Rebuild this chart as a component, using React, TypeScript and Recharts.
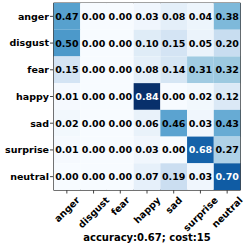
import React from 'react';
import { ScatterChart, Scatter, XAxis, YAxis, ReferenceArea, Label } from 'recharts';

const EMOTIONS = ['anger', 'disgust', 'fear', 'happy', 'sad', 'surprise', 'neutral'];

const ANGER = [0.47, 0.0, 0.0, 0.03, 0.08, 0.04, 0.38];
const DISGUST = [0.5, 0.0, 0.0, 0.1, 0.15, 0.05, 0.2];
const FEAR = [0.15, 0.0, 0.0, 0.08, 0.14, 0.31, 0.32];
const HAPPY = [0.01, 0.0, 0.0, 0.84, 0.0, 0.02, 0.12];
const SAD = [0.02, 0.0, 0.0, 0.06, 0.46, 0.03, 0.43];
const SURPRISE = [0.01, 0.0, 0.0, 0.03, 0.0, 0.68, 0.27];
const NEUTRAL = [0.0, 0.0, 0.0, 0.07, 0.19, 0.03, 0.7];

const ROWS = [ANGER, DISGUST, FEAR, HAPPY, SAD, SURPRISE, NEUTRAL];
const TICKS = [0, 1, 2, 3, 4, 5, 6];
const TITLE = 'accuracy:0.67; cost:15';

const FONT = '"DejaVu Sans", sans-serif';
const W = 249;
const H = 250;
const PLOT_W = 187;
const CELL = PLOT_W / 7;

// matplotlib "Blues"
const BLUES = ['#f7fbff', '#deebf7', '#c6dbef', '#9ecae1', '#6baed6', '#4292c6', '#2171b5', '#08519c', '#08306b'];

function hex(c: string) {
  return [1, 3, 5].map((i) => parseInt(c.slice(i, i + 2), 16));
}

function blues(t: number) {
  const v = Math.max(0, Math.min(1, t)) * (BLUES.length - 1);
  const i = Math.min(Math.floor(v), BLUES.length - 2);
  const f = v - i;
  const a = hex(BLUES[i]);
  const b = hex(BLUES[i + 1]);
  const m = a.map((x, k) => Math.round(x + (b[k] - x) * f));
  return `rgb(${m[0]},${m[1]},${m[2]})`;
}

const MAX = Math.max(...ROWS.flat());

const cells = ROWS.flatMap((row, r) => row.map((v, c) => ({ x: c, y: r, v })));

function HeatCell(props: any) {
  const { cx, cy, payload } = props;
  if (cx == null || cy == null) return null;
  const v = payload.v as number;
  return (
    <g>
      <rect x={cx - CELL / 2} y={cy - CELL / 2} width={CELL} height={CELL} fill={blues(v / MAX)} />
      <text
        x={cx}
        y={cy}
        textAnchor="middle"
        dominantBaseline="central"
        fontFamily={FONT}
        fontWeight="bold"
        fontSize={9.5}
        fill={v > 0.6 ? '#fff' : '#000'}
      >
        {v.toFixed(2)}
      </text>
    </g>
  );
}

let ctx: CanvasRenderingContext2D | null = null;
function textWidth(s: string) {
  if (!ctx) ctx = document.createElement('canvas').getContext('2d');
  if (!ctx) return s.length * 6;
  ctx.font = `bold 9.5px ${FONT}`;
  return ctx.measureText(s).width;
}

function XTick(props: any) {
  const { x, y, payload } = props;
  const label = EMOTIONS[payload.value];
  const half = (textWidth(label) + 8) * 0.3536;
  const cy = y + 1 + half;
  return (
    <text
      transform={`translate(${x},${cy}) rotate(-45)`}
      textAnchor="middle"
      dominantBaseline="central"
      fontFamily={FONT}
      fontWeight="bold"
      fontSize={9.5}
      fill="#000"
    >
      {label}
    </text>
  );
}

export default function App() {
  return (
    <div style={{ position: 'absolute', left: 0, top: 0, width: W, height: H, background: '#fff' }}>
      <ScatterChart width={W} height={H} margin={{ top: 3, right: 8.5, bottom: 0, left: 0 }}>
        <XAxis
          type="number"
          dataKey="x"
          domain={[-0.5, 6.5]}
          ticks={TICKS}
          interval={0}
          height={60}
          tickSize={3.5}
          tickMargin={1}
          tick={<XTick />}
          stroke="#444"
          allowDataOverflow
        >
          <Label
            value={TITLE}
            position="insideBottom"
            offset={9}
            style={{ fontFamily: FONT, fontWeight: 'bold', fontSize: 10, fill: '#000' }}
          />
        </XAxis>
        <YAxis
          type="number"
          dataKey="y"
          domain={[-0.5, 6.5]}
          ticks={TICKS}
          interval={0}
          reversed
          width={53.5}
          tickSize={3.5}
          tickMargin={1}
          tickFormatter={(v: number) => EMOTIONS[v]}
          tick={{ fontFamily: FONT, fontWeight: 'bold', fontSize: 9.5, fill: '#000' }}
          stroke="#444"
          allowDataOverflow
        />
        <Scatter data={cells} shape={<HeatCell />} isAnimationActive={false} />
        <ReferenceArea x1={-0.5} x2={6.5} y1={-0.5} y2={6.5} fill="none" stroke="#444" strokeWidth={1} ifOverflow="visible" />
      </ScatterChart>
    </div>
  );
}
